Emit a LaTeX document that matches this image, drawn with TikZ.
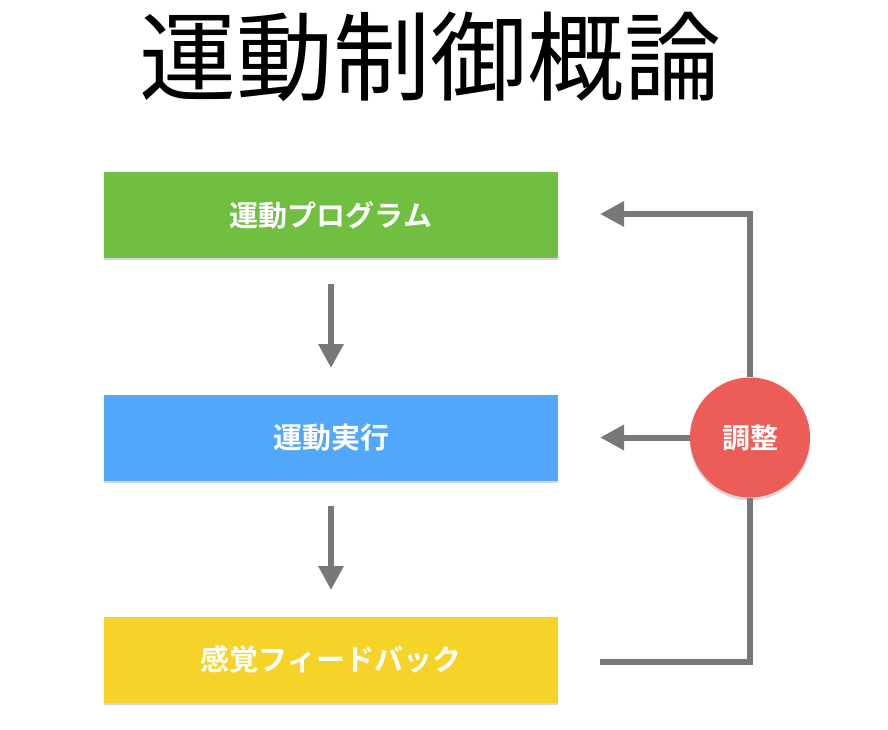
\documentclass[tikz,border=0pt]{standalone}
\usepackage{fontspec}
\setmainfont{Noto Sans CJK JP}
\newfontfamily\cjkbold{Noto Sans CJK JP Bold}
\usetikzlibrary{arrows.meta,shadows,calc}
\definecolor{cgreen}{HTML}{70BF41}
\definecolor{cblue}{HTML}{51A7F9}
\definecolor{cyellow}{HTML}{F5D328}
\definecolor{cred}{HTML}{EC5D57}
\definecolor{cgray}{HTML}{787878}
\begin{document}
\begin{tikzpicture}[x=1pt,y=-1pt,
  stagebox/.style={rectangle, minimum width=454pt, minimum height=86pt, inner sep=0pt,
    text=white, font=\cjkbold\fontsize{29}{34}\selectfont,
    drop shadow={opacity=0.3, shadow xshift=0pt, shadow yshift=-2pt}},
  adjcircle/.style={circle, fill=cred, minimum size=120pt, inner sep=0pt,
    text=white, font=\cjkbold\fontsize{28}{34}\selectfont,
    drop shadow={opacity=0.3, shadow xshift=0pt, shadow yshift=-3pt}},
  flow/.style={draw=cgray, line width=6pt, -{Triangle[length=24pt,width=24pt]}},
  plainflow/.style={draw=cgray, line width=6pt}
]
\useasboundingbox (0,0) rectangle (888,729);
\fill[white] (0,0) rectangle (888,729);
\node[font=\fontsize{97}{110}\selectfont] (title) at (430,57) {運動制御概論};
\node[stagebox, fill=cgreen] (prog) at (331,215) {運動プログラム};
\node[stagebox, fill=cblue] (exec) at (331,437.5) {運動実行};
\node[stagebox, fill=cyellow] (fb) at (331,659.5) {感覚フィードバック};
\node[adjcircle] (adj) at (750,437.5) {調整};
\coordinate (a1s) at (331,284);
\coordinate (a1e) at (331,368);
\coordinate (a2s) at (331,506);
\coordinate (a2e) at (331,590);
\draw[flow] (a1s) -- (a1e);
\draw[flow] (a2s) -- (a2e);
\coordinate (topend) at (600,214);
\coordinate (midend) at (600,437.5);
\coordinate (botstart) at (600,662);
\draw[flow] (adj.north) |- (topend);
\draw[flow] (adj.west) -- (midend);
\draw[plainflow] (botstart) -| (adj.south);
\end{tikzpicture}
\end{document}
